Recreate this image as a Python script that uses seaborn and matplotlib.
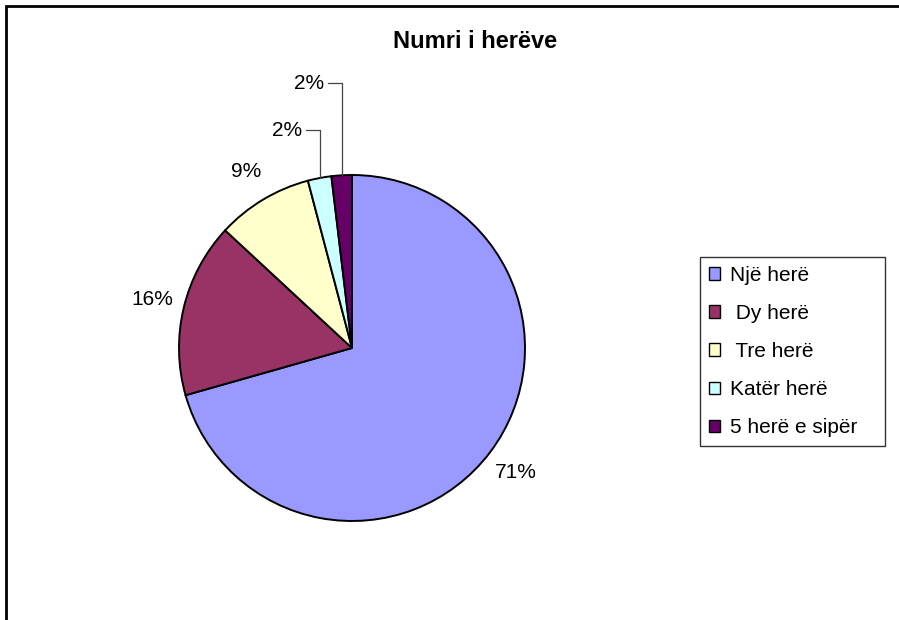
import numpy as np
import matplotlib
matplotlib.use("Agg")
import matplotlib.pyplot as plt
from matplotlib.patches import Rectangle
import seaborn as sns

# dane: liczba herëve (udział w %)
categories = ["Një herë", " Dy herë", " Tre herë", "Katër herë", "5 herë e sipër"]
values = [70.6, 16.3, 9.0, 2.2, 1.9]
pct_labels = ["71%", "16%", "9%", "2%", "2%"]
colors = ["#9999FF", "#993366", "#FFFFCC", "#CCFFFF", "#660066"]

sns.set_theme(style="white")
plt.rcParams['font.family'] = ['Liberation Sans', 'DejaVu Sans']
plt.rcParams['text.color'] = 'black'
palette = sns.color_palette(colors)

W, H = 899, 620
fig = plt.figure(figsize=(W / 100, H / 100), dpi=100)
fig.patch.set_facecolor("white")

cx, cy, r = 352, 348, 173
ax = fig.add_axes([(cx - r) / W, (H - cy - r) / H, 2 * r / W, 2 * r / H])
wedges, _ = ax.pie(values, colors=palette, startangle=90, counterclock=False,
                   wedgeprops=dict(edgecolor="black", linewidth=1.4))
ax.set_xlim(-1, 1)
ax.set_ylim(-1, 1)
ax.set_aspect("equal")
ax.axis("off")

# etykiety procentowe
for i, w in enumerate(wedges):
    mid = np.deg2rad((w.theta1 + w.theta2) / 2)
    x, y = np.cos(mid), np.sin(mid)
    if i < 3:
        ax.text(1.19 * x, 1.19 * y, pct_labels[i], ha="center", va="center",
                fontsize=15, clip_on=False)
    else:
        ly = 1.26 if i == 3 else 1.53
        tx = x - 0.1
        ax.plot([tx + 0.02, x, x], [ly, ly, y], color="#444444", lw=0.9,
                clip_on=False)
        ax.text(tx, ly, pct_labels[i], ha="right", va="center", fontsize=15,
                clip_on=False)

fig.text(475 / W, 1 - 42 / H, "Numri i herëve", ha="center", va="center",
         fontsize=17, fontweight="bold")

leg = ax.legend(wedges, categories, loc="upper left",
                bbox_to_anchor=(700 / W, 0, 185 / W, 1 - 257 / H),
                bbox_transform=fig.transFigure, mode="expand",
                borderaxespad=0, frameon=True, fancybox=False, fontsize=15,
                handlelength=0.55, handleheight=0.55, handletextpad=0.45,
                labelspacing=0.92, borderpad=0.42)
leg.get_frame().set_edgecolor("black")
leg.get_frame().set_linewidth(1.0)
for h in leg.legend_handles:
    h.set_linewidth(1.0)

fig.patches.append(Rectangle((6 / W, -0.1), 1.2, 1.1 - 6 / H, fill=False,
                             edgecolor="black", linewidth=2,
                             transform=fig.transFigure, figure=fig))

plt.savefig("out.png", dpi=100)
